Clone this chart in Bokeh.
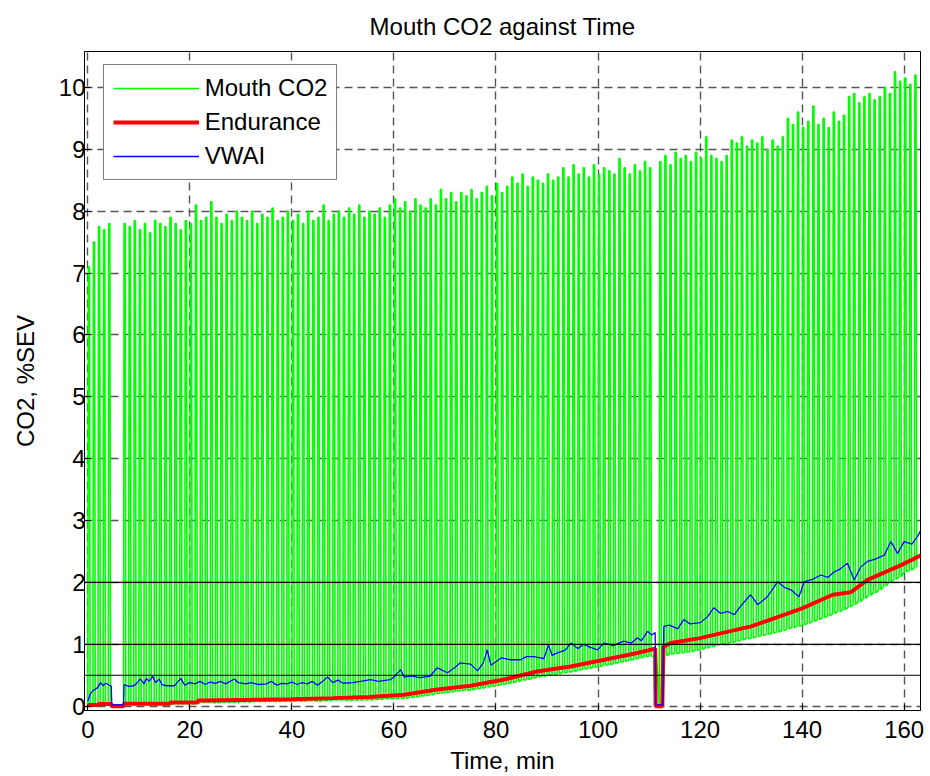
import numpy as np
from bokeh.plotting import figure
from bokeh.models import Range1d, Span, Legend, LegendItem, FixedTicker
from bokeh.embed import file_html
from bokeh.resources import INLINE

title_text = "Mouth CO2 against Time"
x_label = "Time, min"
y_label = "CO2, %SEV"
x_ticks = [0, 20, 40, 60, 80, 100, 120, 140, 160]
y_ticks = [0, 1, 2, 3, 4, 5, 6, 7, 8, 9, 10]
ref_levels = [0.5, 1, 2]

# breath-by-breath mouth CO2, one breath per minute index
breath_minute = list(range(163))
mouth_peak = [
    7.1, 7.5, 7.75, 7.7, 7.8, 0.0, 0.0,
    7.8, 7.75, 7.85, 7.7, 7.8, 7.65, 7.85, 7.8, 7.75, 7.9, 7.8, 7.7, 7.85,
    7.8, 8.1, 7.85, 7.9, 8.15, 7.9, 7.8, 7.95, 7.85, 8.0, 7.9, 7.85, 8.0, 7.8,
    7.95, 7.9, 8.05, 7.85, 7.9, 8.0, 7.85,
    7.95, 7.8, 8.0, 7.85, 7.9, 8.1, 7.85, 7.95, 8.0, 7.9, 8.05, 7.95, 8.1, 7.9,
    8.0, 7.95, 8.05, 7.9,
    8.1, 8.2, 8.05, 8.15, 8.0, 8.2, 8.1, 8.05, 8.2, 8.1,
    8.35, 8.2, 8.3, 8.15, 8.3, 8.25, 8.35, 8.2, 8.3, 8.4, 8.25,
    8.45, 8.3, 8.4, 8.55, 8.45, 8.6, 8.4, 8.55, 8.5, 8.45, 8.6, 8.5, 8.55,
    8.7, 8.55, 8.75, 8.6, 8.7, 8.55, 8.75, 8.6, 8.7, 8.65, 8.6, 8.85, 8.7, 8.6,
    8.75, 8.65, 8.8, 8.7,
    0.0,
    8.8, 8.9, 8.75, 8.95, 8.85, 8.9, 8.8, 8.95, 8.85, 9.2, 8.9, 8.85, 8.8, 8.9,
    9.15, 9.1, 9.2, 9.05, 9.15, 9.1, 9.2, 9.0, 9.15, 9.05, 9.2, 9.5,
    9.4, 9.6, 9.35, 9.45, 9.7, 9.4, 9.5, 9.35, 9.6, 9.45, 9.55,
    9.85, 9.9, 9.75, 9.85, 9.9, 9.8, 9.85, 10.0, 9.9,
    10.25, 10.1, 10.15, 10.05, 10.2,
]
mouth_trough = [
    0.0, 0.02, 0.02, 0.02, 0.02, 0.0, 0.0,
    0.02, 0.03, 0.02, 0.02, 0.03, 0.02, 0.02, 0.03, 0.02, 0.03,
    0.04, 0.04, 0.04, 0.04, 0.04,
    0.06, 0.06, 0.06, 0.05, 0.06, 0.06, 0.06, 0.06,
    0.07, 0.07, 0.07, 0.08, 0.07, 0.08, 0.08, 0.07, 0.08, 0.08, 0.08, 0.09,
    0.08, 0.09, 0.09, 0.08, 0.09, 0.09,
    0.10, 0.10, 0.10, 0.09, 0.10, 0.10, 0.10, 0.10,
    0.11, 0.11, 0.12, 0.12, 0.12, 0.13, 0.13,
    0.14, 0.15, 0.16, 0.17, 0.18, 0.20, 0.21, 0.22, 0.23, 0.24, 0.25, 0.26,
    0.26, 0.28, 0.29, 0.31, 0.32, 0.33, 0.35, 0.36, 0.38, 0.40, 0.42, 0.43,
    0.45, 0.47, 0.48, 0.50, 0.51, 0.52, 0.54, 0.55, 0.56, 0.58, 0.60, 0.61,
    0.63, 0.64, 0.66, 0.67, 0.69, 0.71, 0.72, 0.74, 0.76, 0.78, 0.80, 0.81,
    0.80, 0.0,
    0.82, 0.84, 0.85, 0.86, 0.87, 0.88, 0.90, 0.92, 0.94, 0.96, 0.98, 1.00,
    1.02, 1.03, 1.05, 1.07, 1.09, 1.10, 1.12, 1.14, 1.16, 1.18, 1.20, 1.22,
    1.25, 1.27, 1.29, 1.31, 1.34, 1.37, 1.40, 1.43, 1.46, 1.50, 1.53, 1.56,
    1.60, 1.64, 1.69, 1.74, 1.79, 1.83, 1.88, 1.94, 2.00, 2.05, 2.09, 2.17,
    2.20, 2.24,
]

endurance_t = [0, 2, 2.1, 4.6, 4.7, 7.0, 7.1, 16, 16.2, 21.5, 21.6, 30, 40,
               48, 55, 62, 68.5, 75, 81.6, 88, 94.6, 101.2, 107.7, 111.2, 111.3,
               112.6, 112.8, 114.2, 120, 130, 140, 146, 149.5, 152.8, 159.4, 163.3]
endurance_v = [0.02, 0.02, 0.035, 0.035, 0.0, 0.0, 0.04, 0.04, 0.06, 0.06, 0.09,
               0.10, 0.11, 0.13, 0.15, 0.185, 0.27, 0.33, 0.43, 0.56, 0.64, 0.75,
               0.86, 0.93, 0.0, 0.0, 0.96, 1.02, 1.10, 1.29, 1.58, 1.80, 1.84,
               2.04, 2.28, 2.44]

vwai_t = [0.0, 0.5, 1.0, 1.9, 2.5, 3.0, 3.5, 4.0, 4.6, 4.7, 7.0, 7.1, 8, 9, 9.5,
          10.3, 11, 11.5, 12, 12.7, 13.3, 14, 14.5, 15.5, 17, 18.2, 19, 20, 21,
          22, 23, 24, 25, 26, 27, 28.7, 29.5, 31, 32, 33.5, 35, 36, 37, 38, 39,
          40, 41, 42, 43, 44, 45, 46, 47, 48, 49, 50, 52, 54, 55.4, 57, 59.3, 60,
          61.3, 62, 63.5, 65, 67, 68.5, 70.5, 72, 73, 75, 76.4, 77.5, 78.3, 79,
          81, 82.9, 84.8, 86, 87.4, 89.4, 90.3, 91, 92, 93.5, 94.7, 96, 97.2,
          98.5, 99.9, 101.2, 103, 105, 106.5, 107.7, 108.5, 109.7, 110.5, 111.2,
          111.3, 112.7, 112.9, 114, 115.6, 116.8, 118, 120.1, 121.5, 122.7, 124,
          125.4, 126.7, 128, 129.9, 131.3, 133.2, 135.2, 136.5, 137.8, 139.4,
          140.4, 142, 143.7, 145, 146.3, 147.5, 148.9, 150.2, 151.5, 152.8,
          154.5, 156.1, 157.4, 158.7, 160, 161.5, 162.6, 163.3]
vwai_v = [0.08, 0.2, 0.25, 0.30, 0.38, 0.33, 0.37, 0.35, 0.32, 0.02, 0.02, 0.35,
          0.32, 0.33, 0.36, 0.44, 0.36, 0.45, 0.40, 0.48, 0.38, 0.44, 0.35, 0.33,
          0.33, 0.45, 0.34, 0.38, 0.36, 0.40, 0.35, 0.39, 0.37, 0.40, 0.36, 0.44,
          0.38, 0.36, 0.38, 0.35, 0.36, 0.40, 0.34, 0.37, 0.36, 0.39, 0.35, 0.38,
          0.36, 0.40, 0.34, 0.40, 0.47, 0.38, 0.42, 0.37, 0.38, 0.41, 0.43, 0.40,
          0.43, 0.47, 0.59, 0.47, 0.49, 0.46, 0.48, 0.62, 0.54, 0.63, 0.70, 0.68,
          0.57, 0.70, 0.91, 0.66, 0.78, 0.75, 0.75, 0.80, 0.80, 0.77, 0.99, 0.82,
          0.86, 0.90, 1.02, 0.93, 1.00, 0.95, 0.91, 1.02, 0.98, 1.05, 1.02, 1.10,
          1.06, 1.21, 1.15, 1.19, 0.02, 0.02, 1.29, 1.31, 1.25, 1.40, 1.33, 1.35,
          1.45, 1.59, 1.50, 1.53, 1.48, 1.62, 1.80, 1.64, 1.77, 2.01, 1.92, 1.88,
          1.77, 2.01, 2.05, 2.12, 2.08, 2.17, 2.22, 2.31, 2.04, 2.25, 2.34, 2.38,
          2.44, 2.66, 2.47, 2.66, 2.62, 2.74, 2.85]

FONT = "Liberation Sans"

# breath trace: fast rise, short plateau at the peak, fast fall
gx, gy = [], []
for t, lo, hi in zip(breath_minute, mouth_trough, mouth_peak):
    gx += [t, t + 0.1, t + 0.32, t + 0.45]
    gy += [lo, hi, hi, lo]

p = figure(width=930, height=776, output_backend="svg", toolbar_location=None,
           x_range=Range1d(-0.65, 163.2), y_range=Range1d(-0.07, 10.58),
           min_border_left=84, min_border_right=10, min_border_top=51,
           min_border_bottom=65, title=title_text)
p.background_fill_color = "white"
p.border_fill_color = "white"
p.outline_line_color = "black"
p.outline_line_width = 1
p.outline_line_alpha = 1

p.title.text_font = FONT
p.title.text_font_size = "24px"
p.title.text_font_style = "normal"
p.title.text_color = "black"
p.title.align = "center"
p.title.vertical_align = "top"
p.title.standoff = 20

g = p.line(gx, gy, line_color="#00FF00", line_width=1.6)
r = p.line(endurance_t, endurance_v, line_color="#FF0000", line_width=4)
b = p.line(vwai_t, vwai_v, line_color="#0000FF", line_width=1.3)

for lv in ref_levels:
    p.add_layout(Span(location=lv, dimension="width", line_color="black",
                      line_width=1.2))

p.xaxis.ticker = FixedTicker(ticks=x_ticks)
p.yaxis.ticker = FixedTicker(ticks=y_ticks)
for ax in (p.xaxis[0], p.yaxis[0]):
    ax.major_label_text_font = FONT
    ax.major_label_text_font_size = "24px"
    ax.major_label_text_color = "black"
    ax.axis_label_text_font = FONT
    ax.axis_label_text_font_size = "24px"
    ax.axis_label_text_font_style = "normal"
    ax.axis_label_text_color = "black"
    ax.major_tick_in = 6
    ax.major_tick_out = 0
    ax.minor_tick_line_color = None
    ax.major_tick_line_color = "black"
    ax.axis_line_color = "black"
p.xaxis.axis_label = x_label
p.yaxis.axis_label = y_label
p.xaxis.major_label_standoff = 10
p.xaxis.axis_label_standoff = 6
p.yaxis.major_label_standoff = -1
p.yaxis.axis_label_standoff = 17

for gr in (p.xgrid[0], p.ygrid[0]):
    gr.grid_line_color = "#555555"
    gr.grid_line_width = 1.4
    gr.grid_line_dash = "8 5"
    gr.grid_line_alpha = 1

legend = Legend(items=[LegendItem(label="Mouth CO2", renderers=[g]),
                       LegendItem(label="Endurance", renderers=[r]),
                       LegendItem(label="VWAI", renderers=[b])],
                location=(18.7, 530))
legend.label_text_font = FONT
legend.label_text_font_size = "24px"
legend.label_text_color = "black"
legend.glyph_width = 86
legend.glyph_height = 26
legend.label_height = 26
legend.label_standoff = 6
legend.padding = 9
legend.spacing = 6
legend.margin = 0
legend.border_line_color = "black"
legend.border_line_width = 1
legend.background_fill_color = "white"
legend.background_fill_alpha = 1
p.add_layout(legend)

open("out.html", "w").write(file_html(p, INLINE))
